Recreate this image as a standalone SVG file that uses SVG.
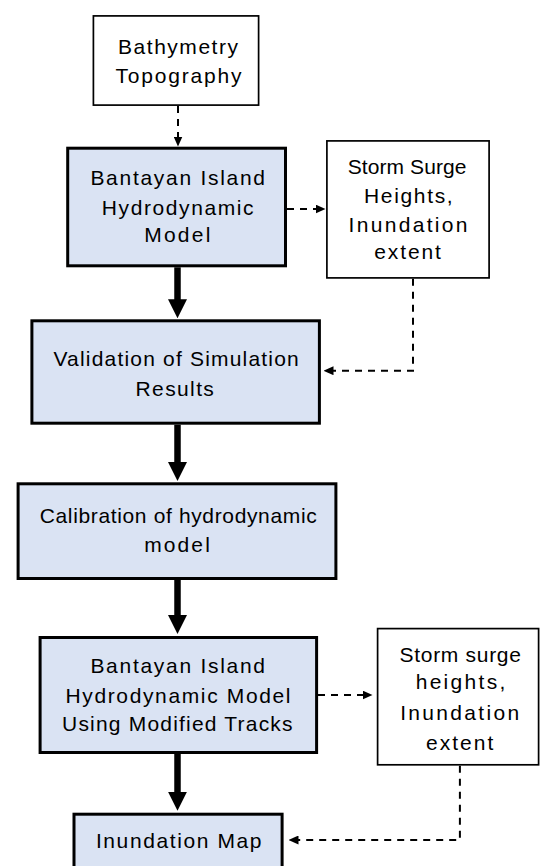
<svg xmlns="http://www.w3.org/2000/svg" width="541" height="866" viewBox="0 0 541 866">
<style>
.bg{fill:#ffffff}
.thin{fill:#ffffff;stroke:#000000;stroke-width:1.7}
.main{fill:#dae3f3;stroke:#000000;stroke-width:3}
.t{font-family:"Liberation Sans",Arial,sans-serif;font-size:21px;fill:#000000;text-anchor:middle}
.thick{fill:none;stroke:#000000;stroke-width:6.5}
.dash{fill:none;stroke:#000000;stroke-width:2;stroke-dasharray:7,6}
</style>
<defs>
<marker id="ah" markerUnits="userSpaceOnUse" markerWidth="19" markerHeight="19" refX="1" refY="9.5" orient="auto" viewBox="0 0 19 19">
<path d="M0,0 L19,9.5 L0,19 z" fill="#000000"/>
</marker>
<marker id="as" markerUnits="userSpaceOnUse" markerWidth="10" markerHeight="9" refX="0.5" refY="4.5" orient="auto" viewBox="0 0 10 9">
<path d="M0,0 L10,4.5 L0,9 z" fill="#000000"/>
</marker>
</defs>
<rect class="bg" x="0" y="0" width="541" height="866"/>

<g id="bathymetry">
<rect class="thin" x="93.4" y="15.9" width="165.2" height="89.2"/>
<text class="t" x="178" y="54" textLength="120" lengthAdjust="spacing">Bathymetry</text>
<text class="t" x="178.5" y="83" textLength="126" lengthAdjust="spacing">Topography</text>
</g>

<g id="model1">
<rect class="main" x="67.7" y="148.2" width="217.8" height="117.6"/>
<text class="t" x="177.7" y="185.3" textLength="174.6" lengthAdjust="spacing">Bantayan Island</text>
<text class="t" x="177.7" y="215" textLength="151.8" lengthAdjust="spacing">Hydrodynamic</text>
<text class="t" x="177.3" y="242.3" textLength="66.2" lengthAdjust="spacing">Model</text>
</g>

<g id="surge1">
<rect class="thin" x="326.9" y="140.9" width="162.2" height="137"/>
<text class="t" x="407.1" y="174" textLength="118.7" lengthAdjust="spacing">Storm Surge</text>
<text class="t" x="408.3" y="203.3" textLength="88.7" lengthAdjust="spacing">Heights,</text>
<text class="t" x="408" y="231.7" textLength="119" lengthAdjust="spacing">Inundation</text>
<text class="t" x="407.6" y="259.3" textLength="66.6" lengthAdjust="spacing">extent</text>
</g>

<g id="validation">
<rect class="main" x="31.9" y="320.8" width="287.5" height="102.4"/>
<text class="t" x="176.1" y="366" textLength="245.3" lengthAdjust="spacing">Validation of Simulation</text>
<text class="t" x="174.7" y="396" textLength="78.3" lengthAdjust="spacing">Results</text>
</g>

<g id="calibration">
<rect class="main" x="18.1" y="483.8" width="317.8" height="94.7"/>
<text class="t" x="178.2" y="523.3" textLength="277" lengthAdjust="spacing">Calibration of hydrodynamic</text>
<text class="t" x="177" y="551.7" textLength="65.6" lengthAdjust="spacing">model</text>
</g>

<g id="model2">
<rect class="main" x="40.1" y="637.5" width="276.5" height="115"/>
<text class="t" x="177.7" y="673.3" textLength="174.6" lengthAdjust="spacing">Bantayan Island</text>
<text class="t" x="178" y="702.7" textLength="225" lengthAdjust="spacing">Hydrodynamic Model</text>
<text class="t" x="177.3" y="730.7" textLength="230.5" lengthAdjust="spacing">Using Modified Tracks</text>
</g>

<g id="surge2">
<rect class="thin" x="377.6" y="628.6" width="161" height="136.2"/>
<text class="t" x="460.2" y="661.7" textLength="121.4" lengthAdjust="spacing">Storm surge</text>
<text class="t" x="460.5" y="689.3" textLength="89.7" lengthAdjust="spacing">heights,</text>
<text class="t" x="459.7" y="720" textLength="119" lengthAdjust="spacing">Inundation</text>
<text class="t" x="459.7" y="750" textLength="67.3" lengthAdjust="spacing">extent</text>
</g>

<g id="map">
<rect class="main" x="74" y="814.2" width="208.1" height="70"/>
<text class="t" x="178.7" y="848.3" textLength="165.6" lengthAdjust="spacing">Inundation Map</text>
</g>

<g id="connectors">
<path class="dash" d="M178,106 V137" marker-end="url(#as)"/>
<path class="dash" d="M287,209 H316" marker-end="url(#as)"/>
<path class="dash" d="M413,278.7 V370.7 H333" marker-end="url(#as)"/>
<path class="dash" d="M318,695 H363" marker-end="url(#as)"/>
<path class="dash" d="M459.9,765.7 V840 H298" marker-end="url(#as)"/>
<path class="thick" d="M177.5,267.3 V300.3" marker-end="url(#ah)"/>
<path class="thick" d="M177.5,424.7 V463" marker-end="url(#ah)"/>
<path class="thick" d="M177.5,580 V616" marker-end="url(#ah)"/>
<path class="thick" d="M177.5,754 V792.7" marker-end="url(#ah)"/>
</g>
</svg>
